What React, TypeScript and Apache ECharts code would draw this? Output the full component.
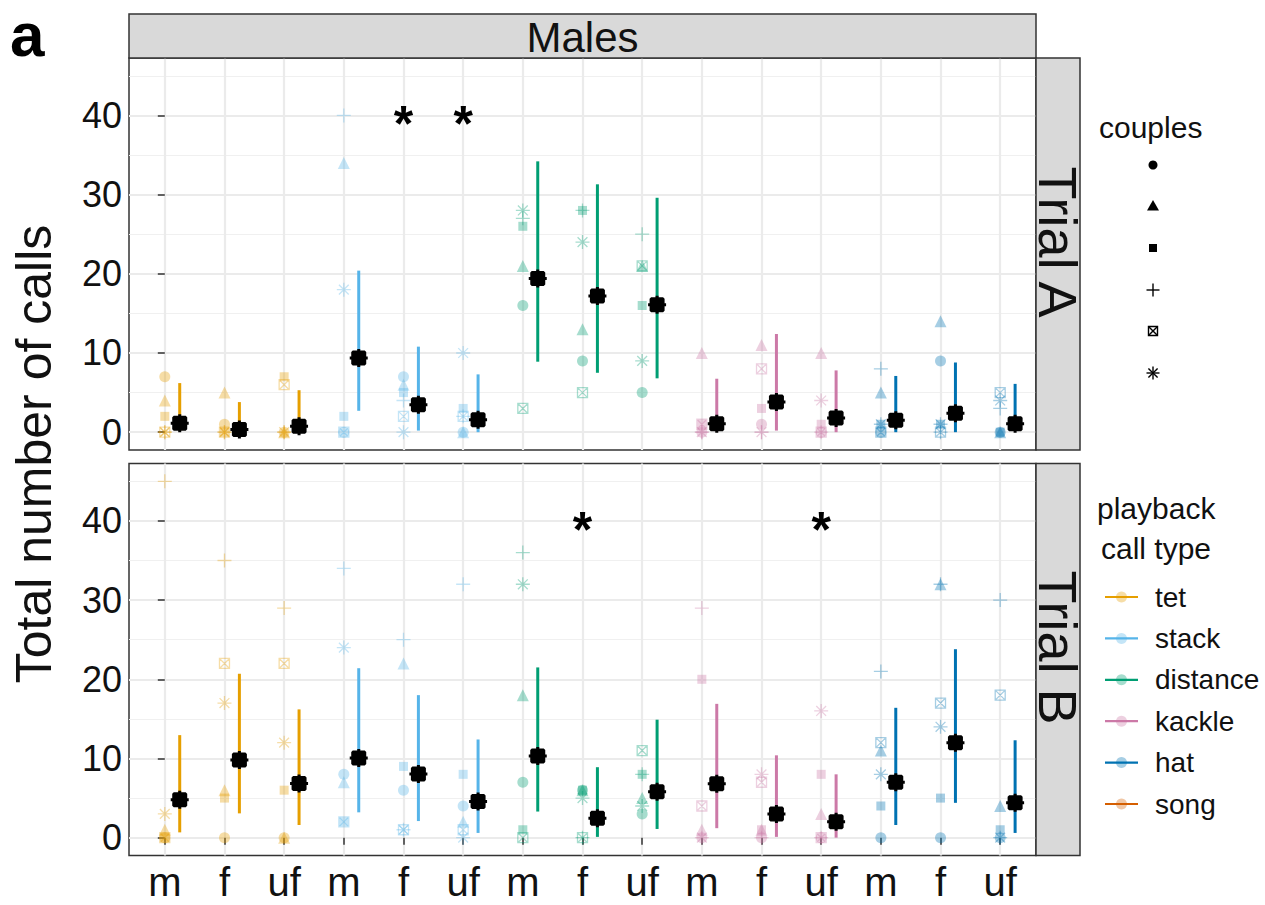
import React, { useEffect, useRef } from "react";
import * as echarts from "echarts";

// ---------- data ----------
const groupLabels = ["m", "f", "uf", "m", "f", "uf", "m", "f", "uf", "m", "f", "uf", "m", "f", "uf"];
const callTypes = ["tet", "stack", "distance", "kackle", "hat", "song"];
const callColors = ["#E69F00", "#56B4E9", "#009E73", "#CC79A7", "#0072B2", "#D55E00"];
const yTicks = [0, 10, 20, 30, 40];
const yMinor = [5, 15, 25, 35, 45];
const trials = ["Trial A", "Trial B"];

// Trial A: raw values per couple (15 groups: call type x m/f/uf)
const aCircle = [7, 1, 0, 0, 7, 0, 16, 9, 5, 0, 1, 0, 0, 9, 0];
const aTriangle = [4, 5, 0, 34, 6, 0, 21, 13, 21, 10, 11, 10, 5, 14, 0];
const aSquare = [2, 0, 7, 2, 5, 3, 26, 28, 16, 1, 3, 1, 1, 1, 0];
const aPlus = [0, 0, 0, 40, 4, 2, 27, 28, 25, 0, 0, 0, 8, 0, 3];
const aSqCross = [0, 0, 6, 0, 2, 2, 3, 5, 21, 1, 8, 0, 0, 0, 5];
const aAsterisk = [0, 0, 0, 18, 0, 10, 28, 24, 9, 0, 0, 4, 1, 1, 4];
const aMean = [1.14, 0.34, 0.76, 9.37, 3.46, 1.56, 19.4, 17.2, 16.1, 1.05, 3.8, 1.8, 1.5, 2.4, 1.05];
const aLow = [0.2, 0.0, 0.1, 2.7, 0.2, 0.0, 8.9, 7.5, 6.8, 0.1, 0.2, 0.0, 0.0, 0.0, 0.2];
const aHigh = [6.2, 3.8, 5.3, 20.4, 10.8, 7.3, 34.2, 31.3, 29.6, 6.75, 12.4, 7.8, 7.1, 8.8, 6.1];
const aStars = [4, 5];

// Trial B
const bCircle = [0, 0, 0, 8, 6, 4, 7, 6, 3, 0, 0, 0, 0, 0, 0];
const bTriangle = [1, 6, 0, 7, 22, 2, 18, 6, 5, 1, 1, 3, 11, 32, 4];
const bSquare = [0, 5, 6, 2, 9, 8, 1, 6, 8, 20, 1, 8, 4, 5, 1];
const bPlus = [45, 35, 29, 34, 25, 32, 36, 0, 8, 29, 0, 0, 21, 32, 30];
const bSqCross = [0, 22, 22, 2, 1, 1, 0, 0, 11, 4, 7, 0, 12, 17, 18];
const bAsterisk = [3, 17, 12, 24, 1, 0, 32, 5, 4, 0, 8, 16, 8, 14, 0];
const bMean = [4.8, 9.8, 6.85, 10.05, 8.03, 4.58, 10.3, 2.44, 5.8, 6.8, 3.0, 2.0, 7.0, 12.0, 4.4];
const bLow = [0.67, 3.07, 1.6, 3.2, 2.1, 0.6, 3.3, 0.1, 1.1, 1.2, 0.1, 0.0, 1.6, 4.4, 0.6];
const bHigh = [12.95, 20.7, 16.2, 21.4, 18.0, 12.4, 21.5, 8.9, 14.9, 16.9, 10.4, 8.0, 16.4, 23.8, 12.3];
const bStars = [7, 11];

const STAR_Y = 40;

// ---------- styles ----------
const FONT = "'Liberation Sans', Arial, Helvetica, sans-serif";
const shapeDefs = [
  { symbol: "circle", size: 11, stroke: false },
  { symbol: "triangle", size: 12, stroke: false },
  { symbol: "rect", size: 9, stroke: false },
  { symbol: "path://M0,5L10,5M5,0L5,10", size: 14, stroke: true },
  { symbol: "path://M0,0L10,0L10,10L0,10ZM0,0L10,10M10,0L0,10", size: 10, stroke: true },
  { symbol: "path://M0,5L10,5M5,0L5,10M1.5,1.5L8.5,8.5M8.5,1.5L1.5,8.5", size: 14, stroke: true },
];
const MEAN_SYMBOL =
  "path://M5,0L7,0L7,1L10,1L11,2L11,5L12,5L12,7L11,7L11,10L10,11L7,11L7,12L5,12L5,11L2,11L1,10L1,7L0,7L0,5L1,5L1,2L2,1L5,1Z";

const GRID_LEFT = 129;
const GRID_W = 907;
const GRID_H = 392;
const GRID_TOPS = [58, 463.5];
const DODGE = 0.25;
const ALPHA = 0.35;

export default function App() {
  const ref = useRef<HTMLDivElement>(null);

  useEffect(() => {
    document.body.style.margin = "0";
    if (!ref.current) return;
    const chart = echarts.init(ref.current, null, { renderer: "svg" });

    const raw = [
      [aCircle, aTriangle, aSquare, aPlus, aSqCross, aAsterisk],
      [bCircle, bTriangle, bSquare, bPlus, bSqCross, bAsterisk],
    ];
    const means = [aMean, bMean];
    const lows = [aLow, bLow];
    const highs = [aHigh, bHigh];
    const stars = [aStars, bStars];

    const grids: any[] = [];
    const xAxes: any[] = [];
    const yAxes: any[] = [];
    const series: any[] = [];

    for (let p = 0; p < 2; p++) {
      grids.push({
        left: GRID_LEFT,
        top: GRID_TOPS[p],
        width: GRID_W,
        height: GRID_H,
        show: true,
        backgroundColor: "#fff",
        borderColor: "#333",
        borderWidth: 1.5,
        containLabel: false,
        outerBoundsMode: "none",
      });
      xAxes.push({
        type: "value",
        gridIndex: p,
        min: -0.6,
        max: 14.6,
        axisLine: { show: false },
        axisTick: {
          show: p === 1,
          customValues: groupLabels.map((_, i) => i),
          length: 7,
          lineStyle: { color: "#333", width: 1.5 },
        },
        axisLabel: {
          show: p === 1,
          customValues: groupLabels.map((_, i) => i),
          formatter: (v: number) => groupLabels[Math.round(v)] ?? "",
          fontSize: 40,
          color: "#111",
          fontFamily: FONT,
          margin: 6,
        },
        splitLine: { show: true, lineStyle: { color: "#EBEBEB", width: 2.2 } },
      });
      yAxes.push({
        type: "value",
        gridIndex: p,
        min: -2.25,
        max: 47.25,
        axisLine: { show: false },
        axisTick: {
          show: true,
          customValues: yTicks,
          length: 7,
          lineStyle: { color: "#333", width: 1.5 },
        },
        axisLabel: {
          show: true,
          customValues: yTicks,
          fontSize: 36,
          color: "#111",
          fontFamily: FONT,
          margin: 7,
        },
        splitLine: { show: true, lineStyle: { color: "#EBEBEB", width: 2.2 } },
      });
      yAxes.push({
        type: "value",
        gridIndex: p,
        min: -2.25,
        max: 47.25,
        position: "left",
        axisLine: { show: false },
        axisTick: { show: false, customValues: yMinor },
        axisLabel: { show: false, customValues: yMinor },
        splitLine: { show: true, lineStyle: { color: "#F0F0F0", width: 1.1 } },
      });

      const yIdx = p * 2;
      // raw points per couple
      raw[p].forEach((vals, c) => {
        const sd = shapeDefs[c];
        series.push({
          type: "scatter",
          name: `couple ${c + 1} (${trials[p]})`,
          xAxisIndex: p,
          yAxisIndex: yIdx,
          symbol: sd.symbol,
          symbolSize: sd.size,
          z: 2,
          silent: true,
          data: vals.map((v, i) => {
            const col = callColors[Math.floor(i / 3)];
            return {
              value: [i, v],
              itemStyle: sd.stroke
                ? { color: "transparent", borderColor: col, borderWidth: 1.3, opacity: ALPHA }
                : { color: col, opacity: ALPHA },
            };
          }),
        });
      });
      // error bars
      series.push({
        type: "custom",
        name: `range (${trials[p]})`,
        xAxisIndex: p,
        yAxisIndex: yIdx,
        z: 3,
        silent: true,
        encode: { x: 0, y: [1, 2] },
        data: means[p].map((_, i) => [i + DODGE, lows[p][i], highs[p][i], Math.floor(i / 3)]),
        renderItem: (params: any, api: any) => {
          const x = api.value(0);
          const p1 = api.coord([x, api.value(1)]);
          const p2 = api.coord([x, api.value(2)]);
          return {
            type: "line",
            shape: { x1: p1[0], y1: p1[1], x2: p2[0], y2: p2[1] },
            style: { stroke: callColors[api.value(3)], lineWidth: 3 },
          };
        },
      });
      // means
      series.push({
        type: "scatter",
        name: `mean (${trials[p]})`,
        xAxisIndex: p,
        yAxisIndex: yIdx,
        symbol: MEAN_SYMBOL,
        symbolSize: 18,
        z: 4,
        silent: true,
        itemStyle: { color: "#000", opacity: 1 },
        data: means[p].map((m, i) => [i + DODGE, m]),
      });
      // significance stars
      series.push({
        type: "scatter",
        name: `signif (${trials[p]})`,
        xAxisIndex: p,
        yAxisIndex: yIdx,
        symbolSize: 1,
        z: 5,
        silent: true,
        itemStyle: { color: "transparent", opacity: 1 },
        label: {
          show: true,
          position: "inside",
          formatter: "*",
          fontSize: 50,
          fontWeight: "bold",
          color: "#000",
          opacity: 1,
          fontFamily: FONT,
          offset: [0, 9],
        },
        data: stars[p].map((i) => [i, STAR_Y]),
      });
    }

    // ---------- graphics: strips, titles, legends ----------
    const g: any[] = [];
    g.push({
      type: "rect",
      shape: { x: GRID_LEFT, y: 14, width: GRID_W, height: 44 },
      style: { fill: "#D9D9D9", stroke: "#333", lineWidth: 1.5 },
      z: 10,
    });
    g.push({
      type: "text",
      x: GRID_LEFT + GRID_W / 2,
      y: 37,
      style: { text: "Males", fontSize: 42, fill: "#111", fontFamily: FONT, align: "center", verticalAlign: "middle" },
      z: 11,
    });
    for (let p = 0; p < 2; p++) {
      g.push({
        type: "rect",
        shape: { x: GRID_LEFT + GRID_W, y: GRID_TOPS[p], width: 44, height: GRID_H },
        style: { fill: "#D9D9D9", stroke: "#333", lineWidth: 1.5 },
        z: 10,
      });
      g.push({
        type: "text",
        x: GRID_LEFT + GRID_W + 22,
        y: GRID_TOPS[p] + GRID_H / 2 - 12,
        rotation: -Math.PI / 2,
        style: { text: trials[p], fontSize: 54, fill: "#111", fontFamily: FONT, align: "center", verticalAlign: "middle" },
        z: 11,
      });
    }
    // y title
    g.push({
      type: "text",
      x: 34,
      y: 454,
      rotation: Math.PI / 2,
      style: {
        text: "Total number of calls",
        fontSize: 50,
        fill: "#111",
        fontFamily: FONT,
        align: "center",
        verticalAlign: "middle",
      },
    });
    // panel tag
    g.push({
      type: "text",
      x: 10,
      y: 34,
      style: {
        text: "a",
        fontSize: 62,
        lineHeight: 60,
        fontWeight: "bold",
        fill: "#000",
        fontFamily: FONT,
        verticalAlign: "middle",
      },
    });

    // couples legend
    const LX = 1153;
    const ly = [165, 206, 248, 290, 331, 373];
    g.push({
      type: "text",
      x: 1099,
      y: 127,
      style: { text: "couples", fontSize: 30, fill: "#111", fontFamily: FONT, verticalAlign: "middle" },
    });
    const lw = 1.4;
    g.push({ type: "circle", shape: { cx: LX, cy: ly[0], r: 4.5 }, style: { fill: "#000" } });
    g.push({
      type: "polygon",
      shape: { points: [[LX, ly[1] - 6], [LX + 6, ly[1] + 4.5], [LX - 6, ly[1] + 4.5]] },
      style: { fill: "#000" },
    });
    g.push({ type: "rect", shape: { x: LX - 4, y: ly[2] - 4, width: 8, height: 8 }, style: { fill: "#000" } });
    g.push({ type: "line", shape: { x1: LX - 6.5, y1: ly[3], x2: LX + 6.5, y2: ly[3] }, style: { stroke: "#000", lineWidth: lw } });
    g.push({ type: "line", shape: { x1: LX, y1: ly[3] - 6.5, x2: LX, y2: ly[3] + 6.5 }, style: { stroke: "#000", lineWidth: lw } });
    g.push({ type: "rect", shape: { x: LX - 4.5, y: ly[4] - 4.5, width: 9, height: 9 }, style: { fill: "none", stroke: "#000", lineWidth: lw } });
    g.push({ type: "line", shape: { x1: LX - 4.5, y1: ly[4] - 4.5, x2: LX + 4.5, y2: ly[4] + 4.5 }, style: { stroke: "#000", lineWidth: lw } });
    g.push({ type: "line", shape: { x1: LX + 4.5, y1: ly[4] - 4.5, x2: LX - 4.5, y2: ly[4] + 4.5 }, style: { stroke: "#000", lineWidth: lw } });
    g.push({ type: "line", shape: { x1: LX - 6.5, y1: ly[5], x2: LX + 6.5, y2: ly[5] }, style: { stroke: "#000", lineWidth: lw } });
    g.push({ type: "line", shape: { x1: LX, y1: ly[5] - 6.5, x2: LX, y2: ly[5] + 6.5 }, style: { stroke: "#000", lineWidth: lw } });
    g.push({ type: "line", shape: { x1: LX - 4.6, y1: ly[5] - 4.6, x2: LX + 4.6, y2: ly[5] + 4.6 }, style: { stroke: "#000", lineWidth: lw } });
    g.push({ type: "line", shape: { x1: LX + 4.6, y1: ly[5] - 4.6, x2: LX - 4.6, y2: ly[5] + 4.6 }, style: { stroke: "#000", lineWidth: lw } });

    // call type legend
    g.push({
      type: "text",
      x: 1097,
      y: 508,
      style: { text: "playback", fontSize: 30, fill: "#111", fontFamily: FONT, verticalAlign: "middle" },
    });
    g.push({
      type: "text",
      x: 1101,
      y: 548,
      style: { text: "call type", fontSize: 30, fill: "#111", fontFamily: FONT, verticalAlign: "middle" },
    });
    const cy0 = 597;
    const cdy = 41.4;
    callTypes.forEach((name, k) => {
      const y = cy0 + k * cdy;
      g.push({ type: "line", shape: { x1: 1105, y1: y, x2: 1138, y2: y }, style: { stroke: callColors[k], lineWidth: 2.2 } });
      g.push({ type: "circle", shape: { cx: 1121.5, cy: y, r: 5.5 }, style: { fill: callColors[k], opacity: ALPHA } });
      g.push({
        type: "text",
        x: 1155,
        y,
        style: { text: name, fontSize: 28, fill: "#111", fontFamily: FONT, verticalAlign: "middle" },
      });
    });

    chart.setOption({
      animation: false,
      backgroundColor: "#fff",
      textStyle: { fontFamily: FONT },
      grid: grids,
      xAxis: xAxes,
      yAxis: yAxes,
      series,
      graphic: { elements: g },
    });

    return () => chart.dispose();
  }, []);

  return <div ref={ref} style={{ width: 1265, height: 905 }} />;
}
